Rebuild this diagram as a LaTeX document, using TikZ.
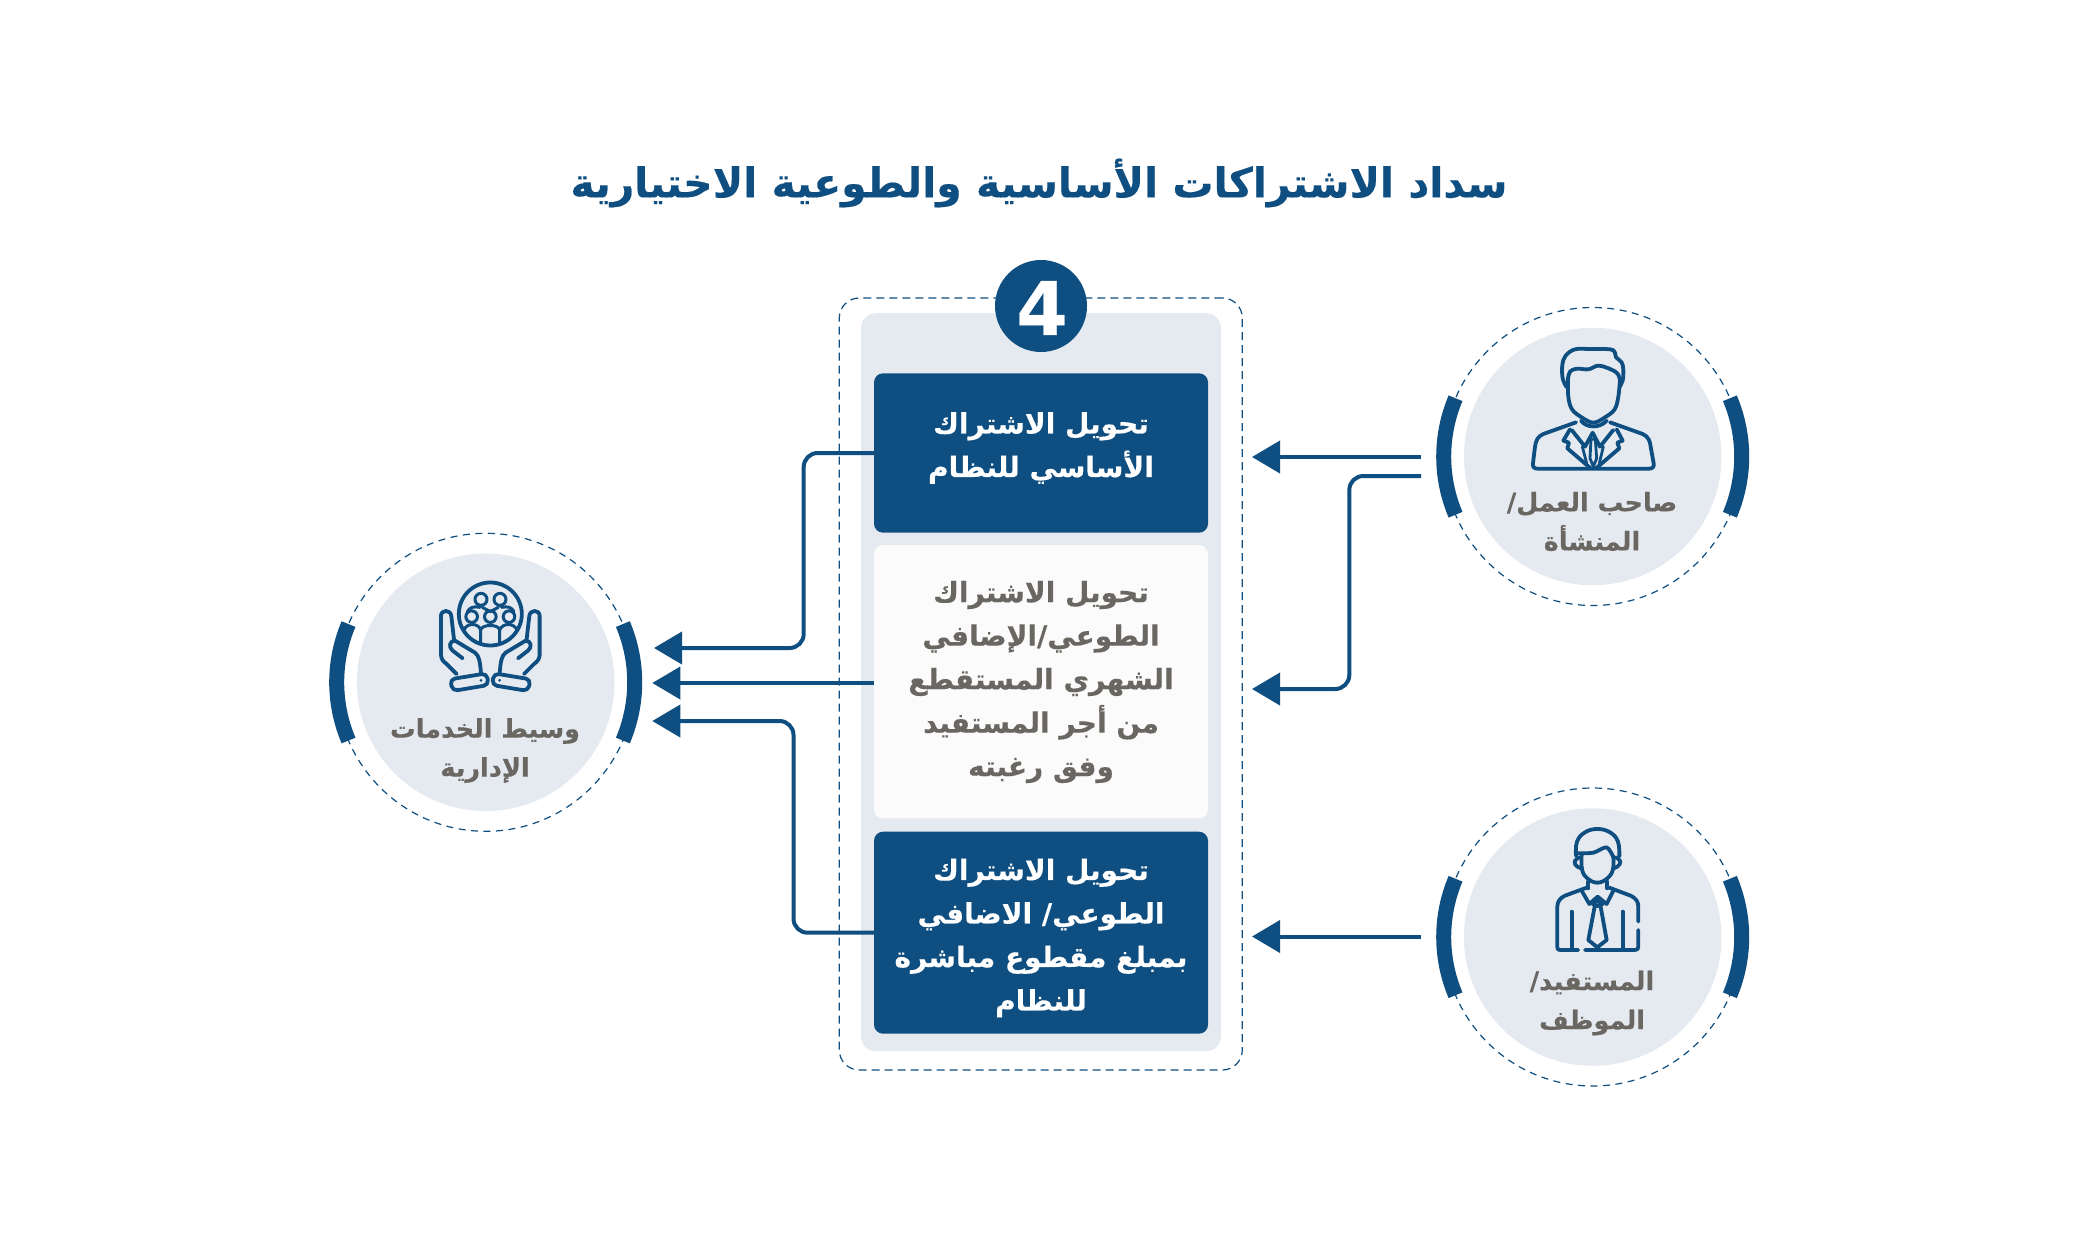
\documentclass[tikz,border=0pt]{standalone}
\usepackage{fontspec}
\usetikzlibrary{arrows.meta}
\newfontfamily\arabicfont[Script=Arabic,BoldFeatures={FakeBold=0.35}]{DejaVu Sans}
\TeXXeTstate=1
\definecolor{navy}{HTML}{0E4E80}
\definecolor{pale}{HTML}{E5EAF0}
\definecolor{txtgrey}{HTML}{6A6662}
\definecolor{offwhite}{HTML}{FBFBFB}
\newcommand{\rl}[1]{\beginR #1\endR}
\tikzset{
  disc/.style={circle,fill=pale,draw=none,minimum size=257.5pt,inner sep=0pt},
  ring/.style={circle,draw=navy,line width=1.2pt,dash pattern=on 7pt off 5.5pt,fill=none,minimum size=298pt,inner sep=0pt},
  band/.style={draw=navy,line width=15pt},
  card/.style={rectangle,rounded corners=9pt,draw=none,inner sep=0pt,minimum width=334pt},
  boxtxt/.style={align=center,inner sep=0pt,font=\arabicfont\bfseries\fontsize{28}{43.5}\selectfont},
  labtxt/.style={align=center,inner sep=0pt,text=txtgrey,font=\arabicfont\bfseries\fontsize{25.5}{39}\selectfont},
  conn/.style={draw=navy,line width=4pt,-{Triangle[length=28pt,width=32pt]}},
  icon/.style={draw=navy,line width=3.8pt,line cap=round,line join=round},
}
\newcommand{\bands}[1]{%
  \draw[band] (#1)+(157:149pt) arc[start angle=157,end angle=203,radius=149pt];
  \draw[band] (#1)+(-23:149pt) arc[start angle=-23,end angle=23,radius=149pt];
}
\begin{document}
\begin{tikzpicture}[x=1pt,y=-1pt]
\useasboundingbox (0,0) rectangle (2079,1252);
\fill[white] (0,0) rectangle (2079,1252);

% title
\node[name=title,inner sep=0pt,text=navy,font=\arabicfont\bfseries\fontsize{41}{48}\selectfont] at (1039,183)
  {\rl{سداد الاشتراكات الأساسية والطوعية الاختيارية}};

% centre panel
\node[name=outer,rectangle,rounded corners=20pt,draw=navy,line width=1.2pt,dash pattern=on 8pt off 5pt,minimum width=403pt,minimum height=772pt,inner sep=0pt] at (1040.8,684) {};
\node[name=panel,rectangle,rounded corners=15pt,fill=pale,minimum width=360pt,minimum height=738pt,inner sep=0pt] at (1041,682.2) {};
\node[name=badge,circle,fill=navy,minimum size=92pt,inner sep=0pt] at (1041,306) {};
\node[name=four,inner sep=0pt,text=white,font=\arabicfont\bfseries\fontsize{74}{80}\selectfont] at (1042,308) {4};

\node[name=boxa,card,fill=navy,minimum height=159.4pt] at (1041,453) {};
\node[name=boxb,card,fill=offwhite,minimum height=273.4pt] at (1041,681.7) {};
\node[name=boxc,card,fill=navy,minimum height=202pt] at (1041,932.7) {};

\node[name=ta,boxtxt,text=white] at (1041,448)
  {\rl{تحويل الاشتراك}\\\rl{الأساسي للنظام}};
\node[name=tb,boxtxt,text=txtgrey] at (1041,682)
  {\rl{تحويل الاشتراك}\\\rl{الطوعي/الإضافي}\\\rl{الشهري المستقطع}\\\rl{من أجر المستفيد}\\\rl{وفق رغبته}};
\node[name=tc,boxtxt,text=white] at (1041,938)
  {\rl{تحويل الاشتراك}\\\rl{الطوعي/ الاضافي}\\\rl{بمبلغ مقطوع مباشرة}\\\rl{للنظام}};

% actor circles
\node[name=ringe,ring] at (1592.7,456.5) {};
\node[name=discE,disc] at (1592.7,456.5) {};
\node[name=ringb,ring] at (1592.7,937) {};
\node[name=discB,disc] at (1592.7,937) {};
\node[name=ringm,ring] at (485.7,682.3) {};
\node[name=discM,disc] at (485.7,682.3) {};
\bands{ringe.center}
\bands{ringb.center}
\bands{ringm.center}

\node[name=le,labtxt] at (1592,521.5) {\rl{صاحب العمل/}\\\rl{المنشأة}};
\node[name=lb,labtxt] at (1592,1003) {\rl{المستفيد/}\\\rl{الموظف}};
\node[name=lm,labtxt] at (485,750.5) {\rl{وسيط الخدمات}\\\rl{الإدارية}};

% connectors
\coordinate (tipa) at (654,648);
\coordinate (tipb) at (652.3,683);
\coordinate (tipc) at (652.3,721);
\coordinate (ja) at (803.7,550);
\coordinate (jc) at (793.5,800);
\draw[conn,rounded corners=14pt] (boxa.west) -| (ja) |- (tipa);
\draw[conn] ([yshift=-1.3pt]boxb.west) -- (tipb);
\draw[conn,rounded corners=14pt] (boxc.west) -| (jc) |- (tipc);

\coordinate (se) at (1421,457);
\coordinate (tie) at (1252,457);
\coordinate (sf) at (1421,476);
\coordinate (jf) at (1349.3,600);
\coordinate (tif) at (1252,689);
\coordinate (sg) at (1421,936.5);
\coordinate (tig) at (1252,936.5);
\draw[conn] (se) -- (tie);
\draw[conn,rounded corners=14pt] (sf) -| (jf) |- (tif);
\draw[conn] (sg) -- (tig);

% employer icon (suit)
\begin{scope}[shift={(1400,290)},x=0.3333pt,y=-0.3333pt]
  \draw[icon] plot[smooth,tension=0.6] coordinates {(500,292)(488,265)(487,225)(497,197)(525,178)(570,177)(630,178)(645,188)(648,202)(665,217)(670,240)(668,272)(658,292)};
  \draw[icon] plot[smooth,tension=0.6] coordinates {(505,262)(510,245)(530,236)(565,238)(595,227)(630,237)(652,250)(660,270)};
  \draw[icon] plot[smooth,tension=0.6] coordinates {(504,262)(505,320)(516,358)(545,382)(580,398)(615,382)(644,358)(655,320)(660,270)};
  \draw[icon] (528,397) -- (430,432) .. controls (412,440) and (408,452) .. (405,470) -- (399,520) .. controls (397,530) and (402,536) .. (412,536) -- (748,536) .. controls (758,536) and (763,530) .. (761,520) -- (752,470) .. controls (750,452) and (745,440) .. (728,432) -- (630,397);
  \draw[icon] (543,392) .. controls (560,415) and (600,415) .. (620,392);
  \draw[icon] (510,418) -- (490,452) -- (507,458) -- (502,475) -- (572,535);
  \draw[icon] (650,418) -- (668,452) -- (652,458) -- (658,475) -- (588,535);
  \draw[icon] (515,420) -- (555,470) -- (578,428) -- (600,470) -- (640,420);
  \draw[icon,line width=2.8pt] (573,448) -- (586,448) -- (590,505) -- (580,530) -- (570,505) -- cycle;
  \draw[icon,line width=2.8pt] (547,470) -- (560,520);
  \draw[icon,line width=2.8pt] (610,470) -- (598,520);
\end{scope}

% beneficiary icon (shirt and tie)
\begin{scope}[shift={(1400,770)},x=0.3333pt,y=-0.3333pt]
  \draw[icon] plot[smooth,tension=0.7] coordinates {(528,258)(531,215)(555,187)(592,177)(630,187)(654,215)(658,260)};
  \draw[icon] plot[smooth,tension=0.5] coordinates {(532,250)(580,248)(620,232)(640,262)};
  \draw[icon] plot[smooth,tension=0.7] coordinates {(545,255)(546,298)(562,325)(592,338)(622,325)(639,298)(640,258)};
  \draw[icon] plot[smooth,tension=0.8] coordinates {(538,262)(524,275)(532,290)(547,295)};
  \draw[icon] plot[smooth,tension=0.8] coordinates {(647,262)(661,275)(652,290)(638,295)};
  \draw[icon] (565,335) -- (565,355);
  \draw[icon] (622,335) -- (622,355);
  \draw[icon] (560,353) -- (495,377) .. controls (480,384) and (472,395) .. (472,410) -- (472,532) .. controls (472,538) and (475,540) .. (480,540) -- (535,540);
  \draw[icon] (555,540) -- (705,540) .. controls (712,540) and (715,537) .. (715,530) -- (715,480);
  \draw[icon] (715,455) -- (715,410) .. controls (715,395) and (707,384) .. (692,377) -- (628,353);
  \draw[icon] (545,362) -- (568,402) -- (593,380) -- (620,402) -- (640,362);
  \draw[icon] (578,402) -- (593,392) -- (608,402) -- (593,408) -- cycle;
  \draw[icon] (584,410) -- (565,510) -- (592,532) -- (620,510) -- (602,410);
  \draw[icon] (515,425) -- (515,535);
  \draw[icon] (668,425) -- (668,535);
\end{scope}

% broker icon (hands and people)
\begin{scope}[shift={(310,520)},x=0.3333pt,y=-0.3333pt]
  \draw[icon] (541,282) circle[radius=31.5pt];
  \draw[icon,line width=3pt] (513,238) circle[radius=6pt];
  \draw[icon,line width=3pt] (570,238) circle[radius=6pt];
  \draw[icon,line width=3pt] (485,290) circle[radius=5.8pt];
  \draw[icon,line width=3pt] (541,290) circle[radius=5.8pt];
  \draw[icon,line width=3pt] (597,290) circle[radius=5.8pt];
  \draw[icon,line width=3pt] (512,370) -- (512,330) .. controls (515,312) and (567,312) .. (569,330) -- (569,373);
  \draw[icon,line width=3pt] (462,330) .. controls (470,308) and (505,308) .. (512,330);
  \draw[icon,line width=3pt] (569,330) .. controls (578,308) and (612,308) .. (621,330);
  \draw[icon,line width=3pt] (472,275) .. controls (480,262) and (490,258) .. (510,262);
  \draw[icon,line width=3pt] (517,262) -- (541,275) -- (565,262);
  \draw[icon,line width=3pt] (575,262) .. controls (595,258) and (605,262) .. (612,275);
  \foreach \m/\d in {0/1,1/-1}{
    \begin{scope}[shift={(\m*1082,0)},xscale=\d]
      \draw[icon] (432,358) -- (424,288) .. controls (422,268) and (393,268) .. (393,288) -- (393,405) .. controls (394,418) and (400,425) .. (410,432) -- (440,462);
      \draw[icon] (458,415) -- (428,392) .. controls (415,382) and (418,362) .. (435,362);
      \draw[icon] (435,362) -- (495,398) .. controls (508,408) and (510,425) .. (513,460);
      \draw[icon,rounded corners=5pt] (420,478) -- (530,460) -- (536,495) -- (428,513) -- cycle;
      \fill[navy] (513,481) circle[radius=1.5pt];
    \end{scope}
  }
\end{scope}
\end{tikzpicture}
\end{document}
